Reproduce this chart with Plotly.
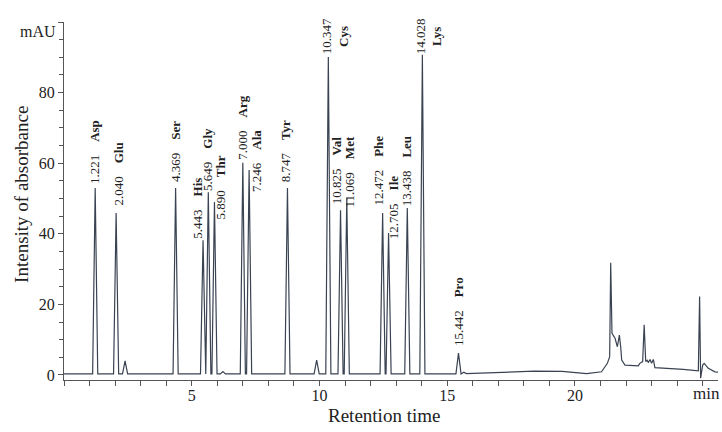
import plotly.graph_objects as go

# ---------------- data ----------------
PEAK_NAMES = ["Asp", "Glu", "Ser", "His", "Gly", "Thr", "Arg", "Ala", "Tyr",
              "Cys", "Val", "Met", "Phe", "Ile", "Leu", "Lys", "Pro"]
PEAK_TIMES = [1.221, 2.040, 4.369, 5.443, 5.649, 5.890, 7.000, 7.246, 8.747,
              10.347, 10.825, 11.069, 12.472, 12.705, 13.438, 14.028, 15.442]
PEAK_HEIGHTS = [53.0, 45.9, 53.0, 38.2, 51.8, 49.0, 60.1, 58.1, 53.0,
                90.1, 46.7, 50.1, 45.9, 40.2, 47.3, 90.7, 6.2]

MINOR_TIMES = [2.39, 6.22, 9.89]
MINOR_HEIGHTS = [4.0, 1.0, 4.2]

# baseline and late-eluting (unlabelled) region, read point by point
BASELINE_TIMES = [0.0, 0.9, 15.25, 15.65, 15.75, 16.3, 17.5, 18.4, 19.5, 20.46,
                  21.04, 21.27, 21.36, 21.40, 21.45, 21.57, 21.66, 21.74, 21.79,
                  21.83, 21.96, 22.48, 22.54, 22.65, 22.71, 22.77, 22.83, 22.87,
                  22.94, 23.00, 23.07, 23.13, 24.24, 24.83, 24.88, 24.92, 25.00,
                  25.06, 25.22, 25.48, 25.6]
BASELINE_VALUES = [0.3, 0.3, 0.3, 0.8, 0.4, 0.5, 0.8, 1.1, 1.0, 0.4,
                   0.9, 3.3, 5.2, 31.8, 11.8, 10.4, 8.0, 11.3, 8.0,
                   4.2, 2.8, 2.6, 3.3, 3.8, 14.2, 3.8, 4.2, 3.5,
                   4.4, 3.3, 4.4, 2.1, 1.6, 1.2, 22.2, -0.9, 2.8,
                   3.3, 1.9, 0.9, 0.8]

X_TICKS = [5, 10, 15, 20, 25]
X_TICK_LABELS = ["5", "10", "15", "20", ""]
X_UNIT = "min"
Y_TICKS = [0, 20, 40, 60, 80, 100]
Y_TICK_LABELS = ["0", "20", "40", "60", "80", ""]
Y_UNIT = "mAU"

# ---------------- styling ----------------
FONT = "Liberation Serif"
LINE_COLOR = "#3a4352"
AXIS_COLOR = "#555555"
PEAK_HALF_WIDTH = 0.1
PEAK_BASE = 0.3

# label offsets in pixels (xshift, yshift, two_line)
LABEL_STYLE = {
    "Asp": (0, 3, False), "Glu": (2, 6, False), "Ser": (0, 5, False),
    "His": (-5, 0, False), "Gly": (-1, 0, False), "Thr": (6, -18, False),
    "Arg": (0, 2, False), "Ala": (8, -23, False), "Tyr": (-2, 5, False),
    "Cys": (7, 2, True), "Val": (-4, 5, False), "Met": (3, -10, False),
    "Phe": (-4, 6, False), "Ile": (5, -7, False), "Leu": (-1, 1, False),
    "Lys": (6, 0, True), "Pro": (0, 6, False),
}

# ---------------- build trace ----------------
pts = list(zip(BASELINE_TIMES, BASELINE_VALUES))
for t, h in list(zip(PEAK_TIMES, PEAK_HEIGHTS)) + list(zip(MINOR_TIMES, MINOR_HEIGHTS)):
    pts += [(t - PEAK_HALF_WIDTH, PEAK_BASE), (t, h), (t + PEAK_HALF_WIDTH, PEAK_BASE)]
pts.sort(key=lambda p: p[0])
xs = [p[0] for p in pts]
ys = [p[1] for p in pts]

fig = go.Figure()
fig.add_trace(go.Scatter(x=xs, y=ys, mode="lines",
                         line=dict(color=LINE_COLOR, width=1.2),
                         hoverinfo="skip", showlegend=False))

nb = "\u00a0" * 4
for name, t, h in zip(PEAK_NAMES, PEAK_TIMES, PEAK_HEIGHTS):
    dx, dy, two = LABEL_STYLE[name]
    sep = "<br>" if two else nb
    fig.add_annotation(x=t, y=h, xref="x", yref="y",
                       text=f"{t:.3f}{sep}<b>{name}</b>",
                       textangle=-90, showarrow=False,
                       xanchor="center", yanchor="bottom",
                       xshift=dx, yshift=dy, borderpad=0,
                       font=dict(family=FONT, size=13, color="#222"))

# axis titles and units
fig.add_annotation(x=0, y=0.517, xref="paper", yref="paper",
                   text="Intensity of absorbance", textangle=-90,
                   showarrow=False, xanchor="center", yanchor="middle",
                   xshift=-42, font=dict(family=FONT, size=19, color="#222"))
fig.add_annotation(x=0.489, y=0, xref="paper", yref="paper",
                   text="Retention time", showarrow=False,
                   xanchor="center", yanchor="middle", yshift=-35,
                   font=dict(family=FONT, size=19, color="#222"))
fig.add_annotation(x=0, y=100, xref="paper", yref="y",
                   text=Y_UNIT, showarrow=False,
                   xanchor="right", yanchor="middle", xshift=-6, yshift=-9,
                   font=dict(family=FONT, size=16, color="#222"))
fig.add_annotation(x=25, y=0, xref="x", yref="paper",
                   text=X_UNIT, showarrow=False,
                   xanchor="center", yanchor="top", xshift=4, yshift=-2,
                   font=dict(family=FONT, size=17, color="#222"))

fig.update_xaxes(range=[0, 25.6], showline=True, linecolor=AXIS_COLOR, linewidth=1,
                 ticks="outside", ticklen=5, tickcolor=AXIS_COLOR,
                 tickmode="array", tickvals=X_TICKS, ticktext=X_TICK_LABELS,
                 minor=dict(ticks="outside", ticklen=5, tickcolor=AXIS_COLOR,
                            tickmode="linear", tick0=0, dtick=1, showgrid=False),
                 showgrid=False, zeroline=False, automargin=False,
                 ticklabelstandoff=-4,
                 tickfont=dict(family=FONT, size=16, color="#222"))
fig.update_yaxes(range=[-1.42, 100], showline=True, linecolor=AXIS_COLOR, linewidth=1,
                 ticks="outside", ticklen=5, tickcolor=AXIS_COLOR,
                 tickmode="array", tickvals=Y_TICKS, ticktext=Y_TICK_LABELS,
                 minor=dict(ticks="outside", ticklen=4, tickcolor=AXIS_COLOR,
                            tickmode="linear", tick0=0, dtick=5, showgrid=False),
                 showgrid=False, zeroline=False, automargin=False,
                 tickfont=dict(family=FONT, size=16, color="#222"))

fig.update_layout(width=722, height=432,
                  margin=dict(l=64, r=4, t=22, b=52),
                  paper_bgcolor="white", plot_bgcolor="white",
                  showlegend=False)

fig.write_html("out.html", config={"displayModeBar": False},
               post_script="document.body.style.margin='0';document.body.style.overflow='hidden';")
